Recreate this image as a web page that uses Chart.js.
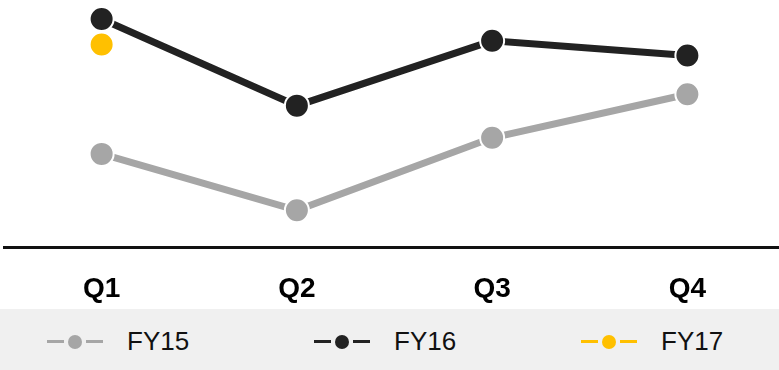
<!DOCTYPE html>
<html>
<head>
<meta charset="utf-8">
<script src="https://cdn.jsdelivr.net/npm/chart.js@4/dist/chart.umd.min.js"></script>
<style>
    html, body { margin: 0; padding: 0; background: #fff; overflow: hidden; }
    body { width: 779px; height: 370px; position: relative; font-family: "Liberation Sans", Arial, sans-serif; }
    #wrap { position: absolute; left: 0; top: 0; width: 790px; height: 331px; }
    #legend { position: absolute; left: 0; top: 309px; width: 779px; height: 61px; background: #f0f0f0; display: flex; }
    .item { flex: 0 0 267px; display: flex; align-items: center; box-sizing: border-box; padding-left: 47px; padding-top: 4px; }
    .seg { width: 17px; height: 3px; }
    .dot { width: 14px; height: 14px; border-radius: 50%; margin: 0 4px; }
    .lbl { margin-left: 24px; font-size: 26px; color: #111; }
</style>
</head>
<body>
<div id="wrap"><canvas id="lineChart"></canvas></div>
<div id="legend"></div>
<script>
const quarters = ['Q1', 'Q2', 'Q3', 'Q4'];
const fy15 = [37.8, 15.0, 44.3, 61.9];
const fy16 = [92.3, 57.3, 83.5, 77.6];
const fy17 = [82.0, null, null, null];

const cores = { fy15: '#a6a6a6', fy16: '#222222', fy17: '#ffc000' };

function serie(label, data, cor) {
    return {
        label, data,
        borderColor: cor, backgroundColor: cor,
        borderWidth: 7,
        pointRadius: 12, pointHoverRadius: 12,
        pointBorderColor: '#fff', pointBorderWidth: 2,
        pointBackgroundColor: cor,
        spanGaps: false
    };
}

const chart = new Chart(document.getElementById('lineChart'), {
    type: 'line',
    data: {
        labels: quarters,
        datasets: [
            serie('FY17', fy17, cores.fy17),
            serie('FY15', fy15, cores.fy15),
            serie('FY16', fy16, cores.fy16)
        ]
    },
    options: {
        responsive: true, maintainAspectRatio: false, animation: false,
        layout: { autoPadding: false, padding: { left: 4, right: 5, top: 0, bottom: 0 } },
        plugins: { legend: { display: false }, tooltip: { enabled: false } },
        scales: {
            x: {
                offset: true,
                grid: { display: false, drawTicks: false },
                border: { display: true, color: '#111', width: 3 },
                ticks: { color: '#000', padding: 25, font: { family: 'Liberation Sans', size: 28, weight: 'bold' } }
            },
            y: { display: false, min: 0, max: 100 }
        }
    }
});

// legenda em html, na ordem FY15, FY16, FY17
const legenda = document.getElementById('legend');
['FY15', 'FY16', 'FY17'].forEach(nome => {
    const ds = chart.data.datasets.find(d => d.label === nome);
    const item = document.createElement('div');
    item.className = 'item';
    item.innerHTML = `<span class="seg" style="background:${ds.borderColor}"></span>` +
        `<span class="dot" style="background:${ds.borderColor}"></span>` +
        `<span class="seg" style="background:${ds.borderColor}"></span>` +
        `<span class="lbl">${nome}</span>`;
    legenda.appendChild(item);
});
</script>
</body>
</html>
